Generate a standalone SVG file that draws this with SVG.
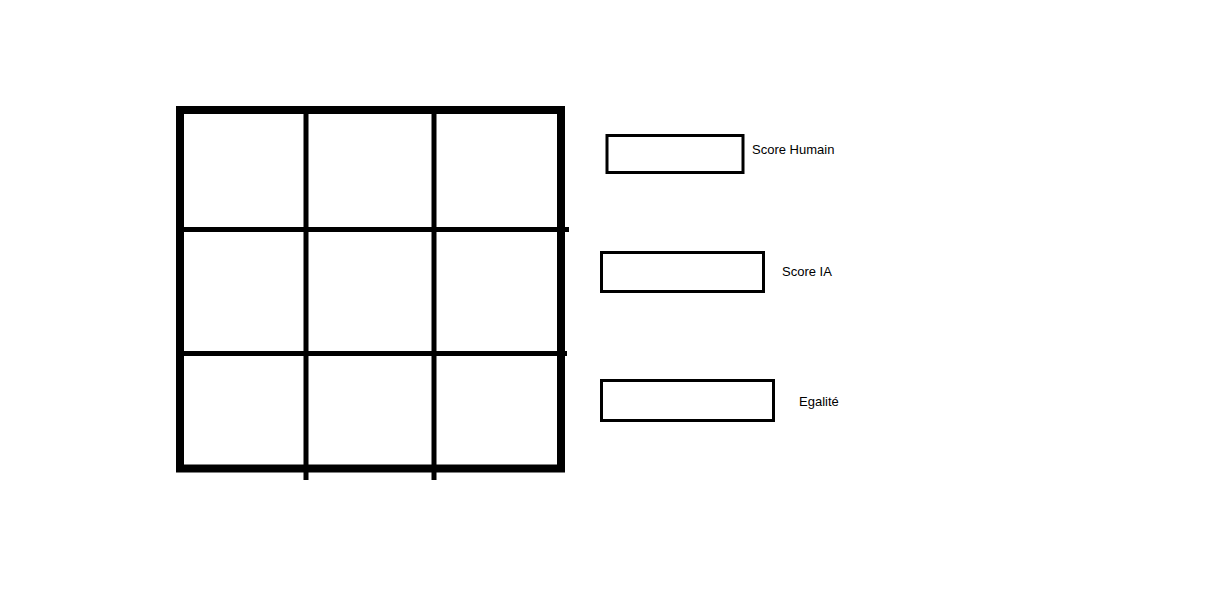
<svg xmlns="http://www.w3.org/2000/svg" width="1216" height="608" viewBox="0 0 1216 608">
<style>
.frame{fill:none;stroke:#000;stroke-width:8}
.gl{stroke:#000;stroke-width:5;stroke-linecap:butt}
.box{fill:#fff;stroke:#000;stroke-width:3}
.lbl{font-family:"Liberation Sans",Arial,sans-serif;font-size:13px;fill:#000}
</style>
<rect width="1216" height="608" fill="#fff"/>
<g id="grid">
<line class="gl" x1="306" y1="112" x2="306" y2="480"/>
<line class="gl" x1="434" y1="112" x2="434" y2="480"/>
<line class="gl" x1="182" y1="229.5" x2="569" y2="229.5"/>
<line class="gl" x1="182" y1="353.5" x2="567" y2="353.5"/>
<rect class="frame" x="180" y="110" width="381" height="358.5"/>
</g>
<g id="score-humain">
<rect class="box" x="607" y="135.5" width="136" height="37"/>
<text class="lbl" x="752" y="154">Score Humain</text>
</g>
<g id="score-ia">
<rect class="box" x="601.5" y="252.5" width="162" height="39"/>
<text class="lbl" x="782" y="276">Score IA</text>
</g>
<g id="egalite">
<rect class="box" x="601.5" y="380.5" width="172" height="40"/>
<text class="lbl" x="799" y="406">Egalité</text>
</g>
<g id="connectors"/>
</svg>
